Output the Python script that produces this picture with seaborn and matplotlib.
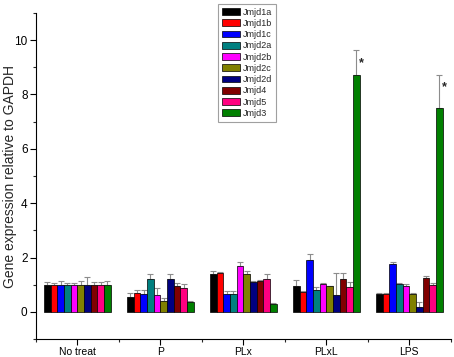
import numpy as np
import pandas as pd
import matplotlib
matplotlib.use("Agg")
import matplotlib.pyplot as plt
from matplotlib.ticker import MultipleLocator
import seaborn as sns

# groups and genes
treatments = ["No treat", "P", "PLx", "PLxL", "LPS"]
genes = ["Jmjd1a", "Jmjd1b", "Jmjd1c", "Jmjd2a", "Jmjd2b",
         "Jmjd2c", "Jmjd2d", "Jmjd4", "Jmjd5", "Jmjd3"]
gene_colors = ["#000000", "#ff0000", "#0000ff", "#008080", "#ff00ff",
               "#808000", "#000080", "#800000", "#ff0080", "#008000"]

# mean expression per gene for each treatment
means = {
    "Jmjd1a": [1.00, 0.56, 1.39, 0.96, 0.65],
    "Jmjd1b": [1.00, 0.71, 1.42, 0.74, 0.67],
    "Jmjd1c": [1.00, 0.67, 0.67, 1.90, 1.75],
    "Jmjd2a": [1.00, 1.23, 0.67, 0.81, 1.01],
    "Jmjd2b": [1.00, 0.61, 1.68, 1.01, 0.96],
    "Jmjd2c": [1.00, 0.40, 1.39, 0.95, 0.65],
    "Jmjd2d": [1.00, 1.23, 1.09, 0.62, 0.20],
    "Jmjd4":  [1.00, 0.96, 1.13, 1.20, 1.26],
    "Jmjd5":  [1.00, 0.87, 1.20, 0.90, 1.00],
    "Jmjd3":  [1.00, 0.38, 0.28, 8.72, 7.50],
}
errors = {
    "Jmjd1a": [0.12, 0.12, 0.12, 0.21, 0.03],
    "Jmjd1b": [0.05, 0.10, 0.05, 0.03, 0.04],
    "Jmjd1c": [0.15, 0.13, 0.11, 0.24, 0.10],
    "Jmjd2a": [0.08, 0.15, 0.11, 0.12, 0.07],
    "Jmjd2b": [0.07, 0.26, 0.16, 0.04, 0.08],
    "Jmjd2c": [0.15, 0.12, 0.11, 0.02, 0.06],
    "Jmjd2d": [0.27, 0.16, 0.05, 0.83, 0.15],
    "Jmjd4":  [0.10, 0.10, 0.05, 0.22, 0.06],
    "Jmjd5":  [0.10, 0.15, 0.18, 0.21, 0.05],
    "Jmjd3":  [0.15, 0.02, 0.04, 0.90, 1.20],
}
# significance marks (treatment, y position)
stars = [("PLxL", 9.15), ("LPS", 8.25)]

rows = []
for g in genes:
    for i, t in enumerate(treatments):
        rows.append({"Treatment": t, "Gene": g, "Expr": means[g][i], "Err": errors[g][i]})
df = pd.DataFrame(rows)

sns.set_style("ticks")
plt.rcParams["font.family"] = ["Liberation Sans", "DejaVu Sans"]

fig = plt.figure(figsize=(4.54, 3.57), dpi=100)
ax = fig.add_axes([0.079, 0.050, 0.914, 0.914])

sns.barplot(data=df, x="Treatment", y="Expr", hue="Gene", order=treatments,
            hue_order=genes, palette=gene_colors, errorbar=None, width=0.8,
            edgecolor="black", linewidth=0.5, saturation=1, ax=ax, zorder=3)

# upward error bars, gray
for g, cont in zip(genes, ax.containers):
    xs = [p.get_x() + p.get_width() / 2 for p in cont.patches]
    ys = means[g]
    ax.errorbar(xs, ys, yerr=[np.zeros(len(ys)), errors[g]], fmt="none",
                ecolor="#8c8c8c", elinewidth=0.8, capsize=2, capthick=0.8, zorder=2)

# asterisks next to Jmjd3 bars
jmjd3 = ax.containers[genes.index("Jmjd3")]
for t, y in stars:
    p = jmjd3.patches[treatments.index(t)]
    ax.text(p.get_x() + p.get_width() / 2 + 0.065, y, "*", ha="center", va="center",
            fontsize=9, fontweight="bold")

ax.set_xlim(-0.5, 4.5)
ax.set_ylim(-1, 11)
ax.yaxis.set_major_locator(MultipleLocator(2))
ax.yaxis.set_minor_locator(MultipleLocator(1))
ax.set_xticks(range(len(treatments)))
ax.set_xticklabels(treatments)
ax.set_xticks(np.arange(-0.5, 5, 1), minor=True)
ax.tick_params(axis="both", which="major", direction="out", length=4, width=0.8,
               colors="black", pad=2)
ax.tick_params(axis="x", which="major", labelsize=7.5)
ax.tick_params(axis="y", which="major", labelsize=8.5)
ax.tick_params(axis="both", which="minor", direction="out", length=2.5, width=0.8)
ax.set_xlabel("")
ax.set_ylabel("Gene expression relative to GAPDH", fontsize=10)
ax.yaxis.set_label_coords(-0.046, 0.5)
for s in ["top", "right"]:
    ax.spines[s].set_visible(False)
for s in ["left", "bottom"]:
    ax.spines[s].set_linewidth(0.8)
    ax.spines[s].set_color("black")

leg = ax.legend(loc="upper left", bbox_to_anchor=(0.481, 0.99),
                bbox_transform=fig.transFigure, fontsize=6.5, frameon=True,
                fancybox=False, edgecolor="#a0a0a0", framealpha=1,
                handlelength=2.0, handleheight=0.78, labelspacing=0.25,
                handletextpad=0.25, borderpad=0.45, borderaxespad=0)
leg.get_frame().set_linewidth(0.8)

fig.savefig("out.png", dpi=100)
